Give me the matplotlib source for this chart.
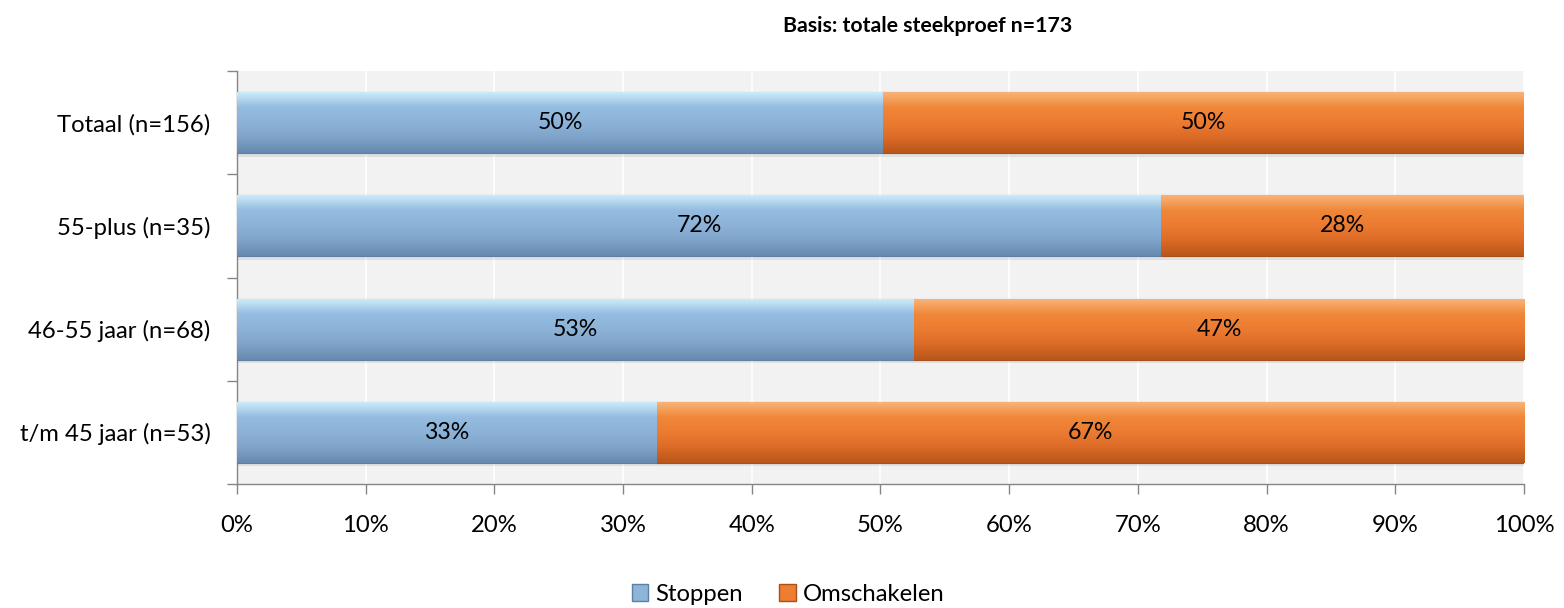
import numpy as np
import matplotlib.pyplot as plt
from matplotlib.colors import LinearSegmentedColormap
from matplotlib.patches import Patch

plt.rcParams['font.family'] = ['Lato', 'DejaVu Sans']

# data (percentages)
categories = ["t/m 45 jaar (n=53)", "46-55 jaar (n=68)", "55-plus (n=35)", "Totaal (n=156)"]
stoppen = [32.6, 52.6, 71.8, 50.2]
omschakelen = [100 - v for v in stoppen]
series_names = ["Stoppen", "Omschakelen"]

blue_cmap = LinearSegmentedColormap.from_list(
    "b", ["#6688AE", "#7FA3C8", "#8CB2D8", "#94BCE0", "#CDEBFA"])
orange_cmap = LinearSegmentedColormap.from_list(
    "o", ["#B8561A", "#DA6A25", "#EC7B32", "#F08738", "#F8B47A"])

fs = 17.2

fig = plt.figure(figsize=(15.64, 6.08), dpi=100)
ax = fig.add_axes([0.1515, 0.2039, 0.8229, 0.6793])
ax.set_facecolor("#F2F2F2")

y = np.arange(len(categories))
h = 0.59
b1 = ax.barh(y, stoppen, height=h, color="#8DB4D9", edgecolor="#5F7FA3", linewidth=0.8, zorder=3)
b2 = ax.barh(y, omschakelen, left=stoppen, height=h, color="#EE7D31", edgecolor="#A8501A", linewidth=0.8, zorder=3)

# gradient fill clipped to each bar
grad = np.linspace(0, 1, 256).reshape(-1, 1)
for bars, cmap in [(b1, blue_cmap), (b2, orange_cmap)]:
    for r in bars:
        x0, y0 = r.get_x(), r.get_y()
        im = ax.imshow(grad, cmap=cmap, aspect="auto", origin="lower",
                       extent=[x0, x0 + r.get_width(), y0, y0 + r.get_height()],
                       zorder=3.5, interpolation="bicubic")
        im.set_clip_path(r)
    # shadow under bars
    for r in bars:
        ax.add_patch(plt.Rectangle((r.get_x(), r.get_y() - 0.035), r.get_width(), 0.035,
                                   color="#000000", alpha=0.08, lw=0, zorder=2))

for i in range(len(categories)):
    ax.text(stoppen[i] / 2, y[i], "%.0f%%" % stoppen[i], ha="center", va="center",
            fontsize=fs - 0.5, color="black", zorder=5)
    ax.text(stoppen[i] + omschakelen[i] / 2, y[i], "%.0f%%" % omschakelen[i], ha="center",
            va="center", fontsize=fs - 0.5, color="black", zorder=5)

ax.set_xlim(0, 100)
ax.set_ylim(-0.5, len(categories) - 0.5)
ax.set_xticks(np.arange(0, 101, 10))
ax.set_xticklabels(["%d%%" % v for v in range(0, 101, 10)], fontsize=fs)
ax.grid(axis="x", color="white", linewidth=1.2, zorder=1)
ax.set_axisbelow(True)

ax.set_yticks(np.arange(-0.5, len(categories), 1))
ax.set_yticklabels([])
ax.set_yticks(y, minor=True)
ax.set_yticklabels(categories, minor=True, fontsize=fs)
ax.tick_params(axis="y", which="minor", length=0, pad=19)
ax.tick_params(axis="y", which="major", length=7, color="#868686", width=1)
ax.tick_params(axis="x", length=7, color="#868686", width=1, pad=15)

for s in ["top", "right"]:
    ax.spines[s].set_visible(False)
for s in ["left", "bottom"]:
    ax.spines[s].set_color("#868686")
    ax.spines[s].set_linewidth(1)

fig.text(0.593, 0.958, "Basis: totale steekproef n=173", ha="center", va="center",
         fontsize=15.3, fontweight="bold")

handles = [Patch(facecolor="#8DB4D9", edgecolor="#5F7FA3", label=series_names[0]),
           Patch(facecolor="#EE7D31", edgecolor="#A8501A", label=series_names[1])]
fig.legend(handles=handles, loc="center", bbox_to_anchor=(0.504, 0.023), ncol=2,
           frameon=False, fontsize=fs, handlelength=0.7, handleheight=0.7,
           handletextpad=0.3, columnspacing=1.5)

fig.savefig("out.png", dpi=100)
